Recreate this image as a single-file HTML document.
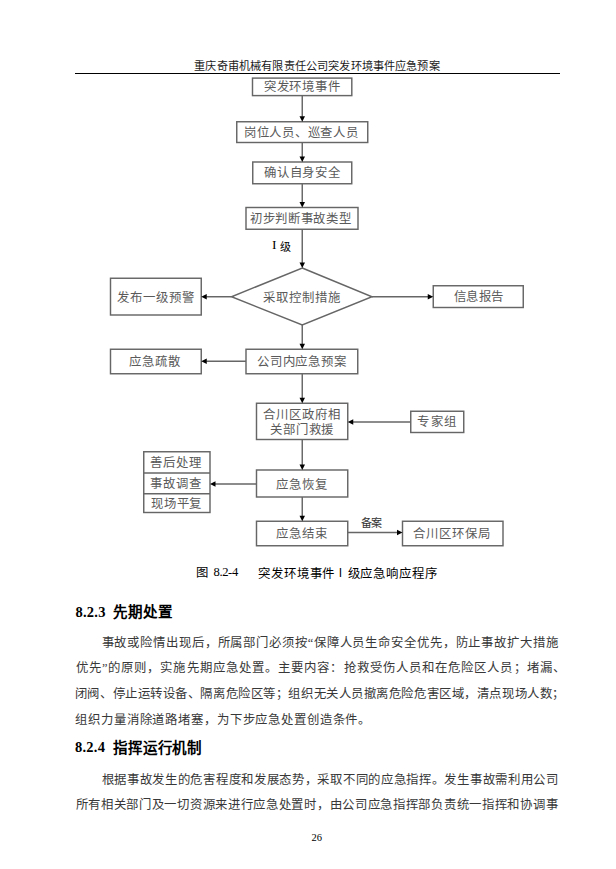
<!DOCTYPE html>
<html lang="zh-CN"><head><meta charset="utf-8"><title>page</title>
<style>
html,body{margin:0;padding:0;background:#fff;}
body{width:616px;height:869px;position:relative;overflow:hidden;font-family:"Liberation Serif",serif;color:#000;}
.t,.j,.b,.s,.j0,.t2,.t3,.bn,.hd,.bb{position:absolute;white-space:nowrap;line-height:1;}
.t{color:#5a5a5a;}
.j,.t2{color:#383838;}
.j0{color:#000;}
.t3{color:#000;}
.b{font-weight:bold;color:#000;}
.bn{color:#000;}
.hd{color:#1a1a1a;}
.bb{color:#333;}
.s{font-family:"Liberation Sans",sans-serif;color:#000;}
i{display:inline-block;font-style:normal;}
.hl{position:absolute;left:75px;top:72.8px;width:485px;height:1.3px;background:#000;}
</style></head><body>
<div class="hl"></div>
<svg width="616" height="869" style="position:absolute;left:0;top:0"><g fill="none" stroke="#666" stroke-width="1.45"><rect x="252.5" y="78.1" width="99.30" height="17.50"/><rect x="236.75" y="121.75" width="131.00" height="20.75"/><rect x="252.75" y="162" width="99.00" height="21.75"/><rect x="246" y="207.5" width="112.00" height="21.75"/><rect x="110.5" y="278.25" width="90.75" height="36.75"/><rect x="433.25" y="285.75" width="90.00" height="21.75"/><rect x="110.5" y="349.25" width="90.75" height="24.50"/><rect x="246" y="349.25" width="111.75" height="24.50"/><rect x="256.5" y="403.25" width="91.25" height="36.25"/><rect x="410.75" y="411.25" width="53.00" height="21.25"/><rect x="143.75" y="451.75" width="66.25" height="60.75"/><rect x="256.5" y="470" width="91.25" height="27.00"/><rect x="256.5" y="521.25" width="91.25" height="24.50"/><rect x="402.5" y="521.25" width="100.50" height="24.50"/><line x1="143.75" y1="473" x2="210" y2="473"/><line x1="143.75" y1="493.75" x2="210" y2="493.75"/><polygon points="302.25,268 372,296.75 302.25,325 231.5,296.75"/><line x1="302.25" y1="95.6" x2="302.25" y2="116.75"/><line x1="302.25" y1="142.5" x2="302.25" y2="157"/><line x1="302.25" y1="183.75" x2="302.25" y2="202.5"/><line x1="302.25" y1="229.25" x2="302.25" y2="263"/><line x1="302.25" y1="325" x2="302.25" y2="344.25"/><line x1="302.25" y1="373.75" x2="302.25" y2="398.25"/><line x1="302.25" y1="439.5" x2="302.25" y2="465"/><line x1="302.25" y1="497" x2="302.25" y2="516.25"/><line x1="231.5" y1="296.75" x2="206.25" y2="296.75"/><line x1="372" y1="296.75" x2="428.25" y2="296.75"/><line x1="246" y1="361.25" x2="206.25" y2="361.25"/><line x1="410.75" y1="422" x2="352.75" y2="422"/><line x1="256.5" y1="484" x2="215" y2="484"/><line x1="347.75" y1="532.5" x2="397.5" y2="532.5"/></g><g fill="#000"><polygon points="299.5,116.25 305.0,116.25 302.25,121.75"/><polygon points="299.5,156.5 305.0,156.5 302.25,162"/><polygon points="299.5,202.0 305.0,202.0 302.25,207.5"/><polygon points="299.5,262.5 305.0,262.5 302.25,268"/><polygon points="299.5,343.75 305.0,343.75 302.25,349.25"/><polygon points="299.5,397.75 305.0,397.75 302.25,403.25"/><polygon points="299.5,464.5 305.0,464.5 302.25,470"/><polygon points="299.5,515.75 305.0,515.75 302.25,521.25"/><polygon points="206.75,294.0 206.75,299.5 201.25,296.75"/><polygon points="427.75,294.0 427.75,299.5 433.25,296.75"/><polygon points="206.75,358.5 206.75,364.0 201.25,361.25"/><polygon points="353.25,419.25 353.25,424.75 347.75,422"/><polygon points="215.5,481.25 215.5,486.75 210,484"/><polygon points="397.0,529.75 397.0,535.25 402.5,532.5"/></g></svg>
<div id="h" class="hd" style="left:194.34px;top:60.86px;font-size:11.2px;"><i style="width:11.157px">重</i><i style="width:11.157px">庆</i><i style="width:11.157px">奇</i><i style="width:11.157px">甫</i><i style="width:11.157px">机</i><i style="width:11.157px">械</i><i style="width:11.157px">有</i><i style="width:11.157px">限</i><i style="width:11.157px">责</i><i style="width:11.157px">任</i><i style="width:11.157px">公</i><i style="width:11.157px">司</i><i style="width:11.157px">突</i><i style="width:11.157px">发</i><i style="width:11.157px">环</i><i style="width:11.157px">境</i><i style="width:11.157px">事</i><i style="width:11.157px">件</i><i style="width:11.157px">应</i><i style="width:11.157px">急</i><i style="width:11.157px">预</i><i style="width:11.157px">案</i></div>
<div id="f1" class="t" style="left:263.60px;top:80.85px;font-size:12.4px;"><i style="width:12.940px">突</i><i style="width:12.940px">发</i><i style="width:12.940px">环</i><i style="width:12.940px">境</i><i style="width:12.940px">事</i><i style="width:12.940px">件</i></div>
<div id="f2" class="t" style="left:243.85px;top:126.81px;font-size:12.4px;"><i style="width:12.738px">岗</i><i style="width:12.738px">位</i><i style="width:12.738px">人</i><i style="width:12.738px">员</i><i style="width:12.738px">、</i><i style="width:12.738px">巡</i><i style="width:12.738px">查</i><i style="width:12.738px">人</i><i style="width:12.738px">员</i></div>
<div id="f3" class="t" style="left:264.00px;top:167.49px;font-size:12.4px;"><i style="width:12.760px">确</i><i style="width:12.760px">认</i><i style="width:12.760px">自</i><i style="width:12.760px">身</i><i style="width:12.760px">安</i><i style="width:12.760px">全</i></div>
<div id="f4" class="t" style="left:250.10px;top:212.99px;font-size:12.4px;"><i style="width:12.657px">初</i><i style="width:12.657px">步</i><i style="width:12.657px">判</i><i style="width:12.657px">断</i><i style="width:12.657px">事</i><i style="width:12.657px">故</i><i style="width:12.657px">类</i><i style="width:12.657px">型</i></div>
<div id="f5a" class="bn" style="left:272.10px;top:238.43px;font-size:13.5px;letter-spacing:0.000px;">I</div>
<div id="f5b" class="bn" style="left:280.25px;top:241.58px;font-size:11px;"><i style="width:11.000px">级</i></div>
<div id="f6" class="t" style="left:262.60px;top:291.71px;font-size:12.4px;"><i style="width:13.120px">采</i><i style="width:13.120px">取</i><i style="width:13.120px">控</i><i style="width:13.120px">制</i><i style="width:13.120px">措</i><i style="width:13.120px">施</i></div>
<div id="f7" class="t" style="left:116.60px;top:291.71px;font-size:12.4px;"><i style="width:13.120px">发</i><i style="width:13.120px">布</i><i style="width:13.120px">一</i><i style="width:13.120px">级</i><i style="width:13.120px">预</i><i style="width:13.120px">警</i></div>
<div id="f8" class="t" style="left:453.75px;top:290.81px;font-size:12.4px;"><i style="width:12.400px">信</i><i style="width:12.400px">息</i><i style="width:12.400px">报</i><i style="width:12.400px">告</i></div>
<div id="f9" class="t" style="left:129.10px;top:355.81px;font-size:12.4px;"><i style="width:13.000px">应</i><i style="width:13.000px">急</i><i style="width:13.000px">疏</i><i style="width:13.000px">散</i></div>
<div id="f10" class="t" style="left:256.85px;top:355.81px;font-size:12.4px;"><i style="width:12.850px">公</i><i style="width:12.850px">司</i><i style="width:12.850px">内</i><i style="width:12.850px">应</i><i style="width:12.850px">急</i><i style="width:12.850px">预</i><i style="width:12.850px">案</i></div>
<div id="f11a" class="t" style="left:262.60px;top:408.66px;font-size:12.4px;"><i style="width:13.120px">合</i><i style="width:13.120px">川</i><i style="width:13.120px">区</i><i style="width:13.120px">政</i><i style="width:13.120px">府</i><i style="width:13.120px">相</i></div>
<div id="f11b" class="t" style="left:270.10px;top:424.41px;font-size:12.4px;"><i style="width:12.850px">关</i><i style="width:12.850px">部</i><i style="width:12.850px">门</i><i style="width:12.850px">救</i><i style="width:12.850px">援</i></div>
<div id="f12" class="t" style="left:417.35px;top:416.16px;font-size:12.4px;"><i style="width:13.300px">专</i><i style="width:13.300px">家</i><i style="width:13.300px">组</i></div>
<div id="f13a" class="t" style="left:150.35px;top:456.91px;font-size:12.4px;"><i style="width:13.000px">善</i><i style="width:13.000px">后</i><i style="width:13.000px">处</i><i style="width:13.000px">理</i></div>
<div id="f13b" class="t" style="left:150.35px;top:478.16px;font-size:12.4px;"><i style="width:13.000px">事</i><i style="width:13.000px">故</i><i style="width:13.000px">调</i><i style="width:13.000px">查</i></div>
<div id="f13c" class="t" style="left:151.25px;top:498.16px;font-size:12.4px;"><i style="width:12.700px">现</i><i style="width:12.700px">场</i><i style="width:12.700px">平</i><i style="width:12.700px">复</i></div>
<div id="f14" class="t" style="left:275.85px;top:478.81px;font-size:12.4px;"><i style="width:13.000px">应</i><i style="width:13.000px">急</i><i style="width:13.000px">恢</i><i style="width:13.000px">复</i></div>
<div id="f15" class="t" style="left:275.85px;top:527.81px;font-size:12.4px;"><i style="width:13.000px">应</i><i style="width:13.000px">急</i><i style="width:13.000px">结</i><i style="width:13.000px">束</i></div>
<div id="f16" class="bb" style="left:360.75px;top:517.52px;font-size:11px;"><i style="width:10.100px">备</i><i style="width:10.100px">案</i></div>
<div id="f17" class="t" style="left:413.35px;top:527.81px;font-size:12.4px;"><i style="width:12.940px">合</i><i style="width:12.940px">川</i><i style="width:12.940px">区</i><i style="width:12.940px">环</i><i style="width:12.940px">保</i><i style="width:12.940px">局</i></div>
<div id="c1" class="s" style="left:196.36px;top:567.19px;font-size:12.4px;"><i style="width:12.400px">图</i></div>
<div id="c2" class="j0" style="left:213.58px;top:566.31px;font-size:12.6px;letter-spacing:-0.405px;">8.2-4</div>
<div id="c3" class="s" style="left:258.42px;top:567.53px;font-size:12.4px;"><i style="width:12.796px">突</i><i style="width:12.796px">发</i><i style="width:12.796px">环</i><i style="width:12.796px">境</i><i style="width:12.796px">事</i><i style="width:12.796px">件</i></div>
<div id="c4" class="s" style="left:338.68px;top:567.26px;font-size:12.0px;letter-spacing:0.000px;">I</div>
<div id="c5" class="s" style="left:347.50px;top:567.53px;font-size:12.4px;"><i style="width:12.850px">级</i><i style="width:12.850px">应</i><i style="width:12.850px">急</i><i style="width:12.850px">响</i><i style="width:12.850px">应</i><i style="width:12.850px">程</i><i style="width:12.850px">序</i></div>
<div id="hd1a" class="b" style="left:75.50px;top:605.44px;font-size:14.5px;letter-spacing:0.225px;">8.2.3</div>
<div id="hd1b" class="b" style="left:113.00px;top:605.24px;font-size:14.5px;"><i style="width:15.100px">先</i><i style="width:15.100px">期</i><i style="width:15.100px">处</i><i style="width:15.100px">置</i></div>
<div id="hd2a" class="b" style="left:75.00px;top:740.44px;font-size:14.5px;letter-spacing:0.225px;">8.2.4</div>
<div id="hd2b" class="b" style="left:113.00px;top:741.14px;font-size:14.5px;"><i style="width:14.860px">指</i><i style="width:14.860px">挥</i><i style="width:14.860px">运</i><i style="width:14.860px">行</i><i style="width:14.860px">机</i><i style="width:14.860px">制</i></div>
<div id="p1" class="j" style="left:101.50px;top:637.06px;font-size:12.4px;"><i style="width:12.894px">事</i><i style="width:12.894px">故</i><i style="width:12.894px">或</i><i style="width:12.894px">险</i><i style="width:12.894px">情</i><i style="width:12.894px">出</i><i style="width:12.894px">现</i><i style="width:12.894px">后</i><i style="width:12.894px">，</i><i style="width:12.894px">所</i><i style="width:12.894px">属</i><i style="width:12.894px">部</i><i style="width:12.894px">门</i><i style="width:12.894px">必</i><i style="width:12.894px">须</i><i style="width:12.894px">按</i><span style="letter-spacing:0.494px">“</span><i style="width:12.894px">保</i><i style="width:12.894px">障</i><i style="width:12.894px">人</i><i style="width:12.894px">员</i><i style="width:12.894px">生</i><i style="width:12.894px">命</i><i style="width:12.894px">安</i><i style="width:12.894px">全</i><i style="width:12.894px">优</i><i style="width:12.894px">先</i><i style="width:12.894px">，</i><i style="width:12.894px">防</i><i style="width:12.894px">止</i><i style="width:12.894px">事</i><i style="width:12.894px">故</i><i style="width:12.894px">扩</i><i style="width:12.894px">大</i><i style="width:12.894px">措</i><i style="width:12.894px">施</i></div>
<div id="p2" class="j" style="left:75.75px;top:661.75px;font-size:12.4px;"><i style="width:13.081px">优</i><i style="width:13.081px">先</i><span style="letter-spacing:0.681px">”</span><i style="width:13.081px">的</i><i style="width:13.081px">原</i><i style="width:13.081px">则</i><i style="width:13.081px">，</i><i style="width:13.081px">实</i><i style="width:13.081px">施</i><i style="width:13.081px">先</i><i style="width:13.081px">期</i><i style="width:13.081px">应</i><i style="width:13.081px">急</i><i style="width:13.081px">处</i><i style="width:13.081px">置</i><i style="width:13.081px">。</i><i style="width:13.081px">主</i><i style="width:13.081px">要</i><i style="width:13.081px">内</i><i style="width:13.081px">容</i><i style="width:13.081px">：</i><i style="width:13.081px">抢</i><i style="width:13.081px">救</i><i style="width:13.081px">受</i><i style="width:13.081px">伤</i><i style="width:13.081px">人</i><i style="width:13.081px">员</i><i style="width:13.081px">和</i><i style="width:13.081px">在</i><i style="width:13.081px">危</i><i style="width:13.081px">险</i><i style="width:13.081px">区</i><i style="width:13.081px">人</i><i style="width:13.081px">员</i><i style="width:13.081px">；</i><i style="width:13.081px">堵</i><i style="width:13.081px">漏</i><i style="width:13.081px">、</i></div>
<div id="p3" class="j" style="left:74.85px;top:688.19px;font-size:12.4px;"><i style="width:12.566px">闭</i><i style="width:12.566px">阀</i><i style="width:12.566px">、</i><i style="width:12.566px">停</i><i style="width:12.566px">止</i><i style="width:12.566px">运</i><i style="width:12.566px">转</i><i style="width:12.566px">设</i><i style="width:12.566px">备</i><i style="width:12.566px">、</i><i style="width:12.566px">隔</i><i style="width:12.566px">离</i><i style="width:12.566px">危</i><i style="width:12.566px">险</i><i style="width:12.566px">区</i><i style="width:12.566px">等</i><i style="width:12.566px">；</i><i style="width:12.566px">组</i><i style="width:12.566px">织</i><i style="width:12.566px">无</i><i style="width:12.566px">关</i><i style="width:12.566px">人</i><i style="width:12.566px">员</i><i style="width:12.566px">撤</i><i style="width:12.566px">离</i><i style="width:12.566px">危</i><i style="width:12.566px">险</i><i style="width:12.566px">危</i><i style="width:12.566px">害</i><i style="width:12.566px">区</i><i style="width:12.566px">域</i><i style="width:12.566px">，</i><i style="width:12.566px">清</i><i style="width:12.566px">点</i><i style="width:12.566px">现</i><i style="width:12.566px">场</i><i style="width:12.566px">人</i><i style="width:12.566px">数</i><i style="width:12.566px">；</i></div>
<div id="p4" class="t2" style="left:75.34px;top:713.93px;font-size:12.4px;"><i style="width:12.866px">组</i><i style="width:12.866px">织</i><i style="width:12.866px">力</i><i style="width:12.866px">量</i><i style="width:12.866px">消</i><i style="width:12.866px">除</i><i style="width:12.866px">道</i><i style="width:12.866px">路</i><i style="width:12.866px">堵</i><i style="width:12.866px">塞</i><i style="width:12.866px">，</i><i style="width:12.866px">为</i><i style="width:12.866px">下</i><i style="width:12.866px">步</i><i style="width:12.866px">应</i><i style="width:12.866px">急</i><i style="width:12.866px">处</i><i style="width:12.866px">置</i><i style="width:12.866px">创</i><i style="width:12.866px">造</i><i style="width:12.866px">条</i><i style="width:12.866px">件</i><i style="width:12.866px">。</i></div>
<div id="q1" class="j" style="left:101.50px;top:773.66px;font-size:12.4px;"><i style="width:12.709px">根</i><i style="width:12.709px">据</i><i style="width:12.709px">事</i><i style="width:12.709px">故</i><i style="width:12.709px">发</i><i style="width:12.709px">生</i><i style="width:12.709px">的</i><i style="width:12.709px">危</i><i style="width:12.709px">害</i><i style="width:12.709px">程</i><i style="width:12.709px">度</i><i style="width:12.709px">和</i><i style="width:12.709px">发</i><i style="width:12.709px">展</i><i style="width:12.709px">态</i><i style="width:12.709px">势</i><i style="width:12.709px">，</i><i style="width:12.709px">采</i><i style="width:12.709px">取</i><i style="width:12.709px">不</i><i style="width:12.709px">同</i><i style="width:12.709px">的</i><i style="width:12.709px">应</i><i style="width:12.709px">急</i><i style="width:12.709px">指</i><i style="width:12.709px">挥</i><i style="width:12.709px">。</i><i style="width:12.709px">发</i><i style="width:12.709px">生</i><i style="width:12.709px">事</i><i style="width:12.709px">故</i><i style="width:12.709px">需</i><i style="width:12.709px">利</i><i style="width:12.709px">用</i><i style="width:12.709px">公</i><i style="width:12.709px">司</i></div>
<div id="q2" class="j" style="left:75.50px;top:798.66px;font-size:12.4px;"><i style="width:12.716px">所</i><i style="width:12.716px">有</i><i style="width:12.716px">相</i><i style="width:12.716px">关</i><i style="width:12.716px">部</i><i style="width:12.716px">门</i><i style="width:12.716px">及</i><i style="width:12.716px">一</i><i style="width:12.716px">切</i><i style="width:12.716px">资</i><i style="width:12.716px">源</i><i style="width:12.716px">来</i><i style="width:12.716px">进</i><i style="width:12.716px">行</i><i style="width:12.716px">应</i><i style="width:12.716px">急</i><i style="width:12.716px">处</i><i style="width:12.716px">置</i><i style="width:12.716px">时</i><i style="width:12.716px">，</i><i style="width:12.716px">由</i><i style="width:12.716px">公</i><i style="width:12.716px">司</i><i style="width:12.716px">应</i><i style="width:12.716px">急</i><i style="width:12.716px">指</i><i style="width:12.716px">挥</i><i style="width:12.716px">部</i><i style="width:12.716px">负</i><i style="width:12.716px">责</i><i style="width:12.716px">统</i><i style="width:12.716px">一</i><i style="width:12.716px">指</i><i style="width:12.716px">挥</i><i style="width:12.716px">和</i><i style="width:12.716px">协</i><i style="width:12.716px">调</i><i style="width:12.716px">事</i></div>
<div id="pn" class="t3" style="left:311.42px;top:832.72px;font-size:10.5px;letter-spacing:0.180px;">26</div>
</body></html>
